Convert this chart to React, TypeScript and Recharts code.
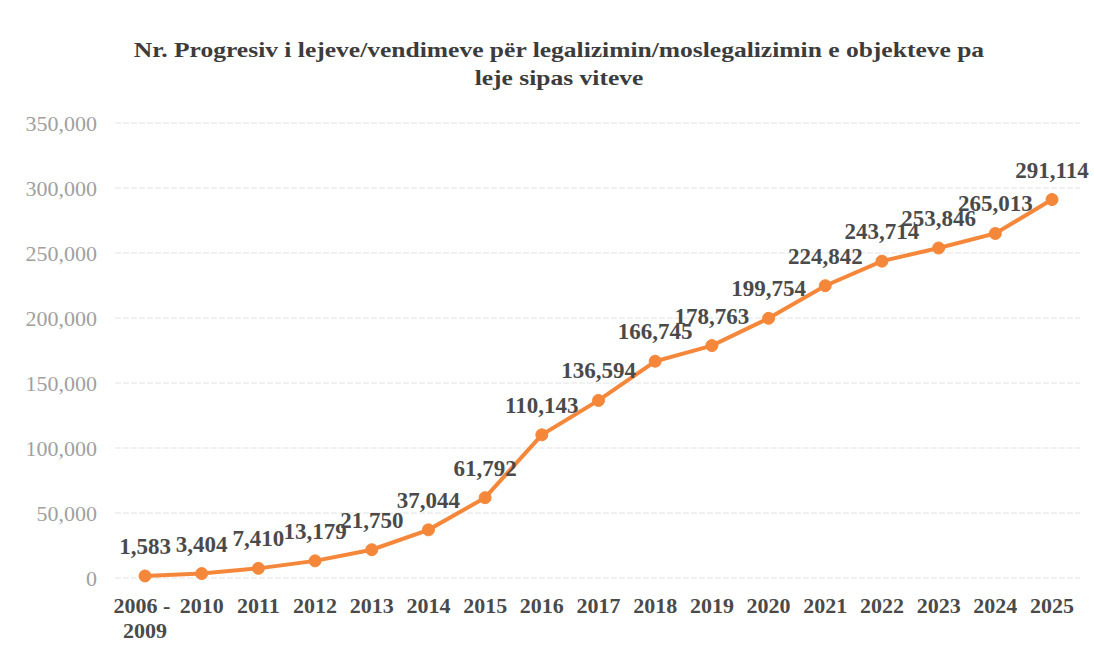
import React from 'react';
import { LineChart, Line, XAxis, YAxis, CartesianGrid, LabelList } from 'recharts';

const years = [
  '2006 - 2009', '2010', '2011', '2012', '2013', '2014', '2015', '2016', '2017',
  '2018', '2019', '2020', '2021', '2022', '2023', '2024', '2025',
];
const permits = [
  1583, 3404, 7410, 13179, 21750, 37044, 61792, 110143, 136594,
  166745, 178763, 199754, 224842, 243714, 253846, 265013, 291114,
];
const yTicks = [0, 50000, 100000, 150000, 200000, 250000, 300000, 350000];

const data = years.map((year, i) => ({ year, value: permits[i] }));

const serif = "'Liberation Serif', 'Times New Roman', serif";
const fmt = (v: number) => v.toLocaleString('en-US');

const YearTick = (props: any) => {
  const { x, y, payload } = props;
  const label: string = payload.value;
  const lines = label.includes(' - ') ? [label.split(' - ')[0] + ' -', label.split(' - ')[1]] : [label];
  return (
    <text x={x} y={y} textAnchor="middle" fill="#4a4a4a" fontSize={22} fontWeight="bold" fontFamily={serif}>
      {lines.map((l, i) => (
        <tspan key={i} x={i === 0 && lines.length > 1 ? x - 3 : x} dy={i === 0 ? 27 : 25}>{l}</tspan>
      ))}
    </text>
  );
};

const App: React.FC = () => {
  return (
    <div style={{ position: 'absolute', left: 0, top: 0, width: 1094, height: 650, background: '#fff' }}>
      <div
        style={{
          position: 'absolute', left: 59, top: 36, width: 1000, textAlign: 'center',
          fontFamily: serif, fontWeight: 'bold', fontSize: 22, lineHeight: '28px', color: '#3c3c3c',
          transform: 'scaleX(1.16)', transformOrigin: '500px 0',
        }}
      >
        Nr. Progresiv i lejeve/vendimeve për legalizimin/moslegalizimin e objekteve pa
        <br />
        leje sipas viteve
      </div>
      <LineChart width={1094} height={650} data={data}
        margin={{ top: 123, right: 14, left: 15, bottom: 12 }}>
        <CartesianGrid vertical={false} stroke="#e2e2e2" strokeDasharray="6 2" />
        <XAxis dataKey="year" axisLine={false} tickLine={false} interval={0}
          padding={{ left: 30, right: 28 }} height={60} tick={<YearTick />} />
        <YAxis domain={[0, 350000]} ticks={yTicks} axisLine={false} tickLine={false}
          width={100} tickMargin={12} tickFormatter={fmt}
          tick={{ fill: '#a0a0a0', fontSize: 22, fontFamily: serif }} />
        <Line type="linear" dataKey="value" stroke="#F5873A" strokeWidth={4}
          dot={{ r: 6, fill: '#F5873A', stroke: '#F5873A', strokeWidth: 1 }}
          isAnimationActive={false}>
          <LabelList dataKey="value" position="top" offset={22} formatter={(v: any) => fmt(Number(v))}
            fill="#4a4a4a" fontSize={23} fontWeight="bold" fontFamily={serif} />
        </Line>
      </LineChart>
    </div>
  );
};

export default App;
